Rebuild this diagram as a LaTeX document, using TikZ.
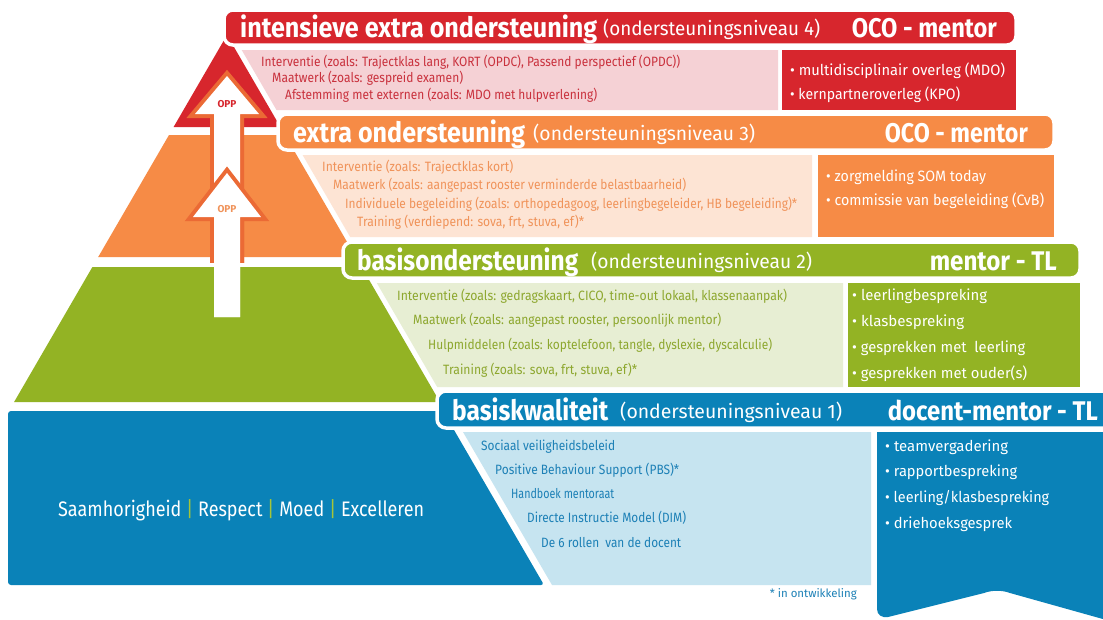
\documentclass[tikz,border=0pt]{standalone}
\usepackage{fontspec}
\setmainfont{Fira Sans}
\usepackage{graphicx}
\definecolor{redD}{HTML}{D7262D}
\definecolor{pinkL}{HTML}{F5D1D5}
\definecolor{pinkT}{HTML}{C9313D}
\definecolor{orD}{HTML}{F68B46}
\definecolor{orL}{HTML}{FDE4D4}
\definecolor{orT}{HTML}{F0935A}
\definecolor{grD}{HTML}{93B324}
\definecolor{grL}{HTML}{E7EED3}
\definecolor{grT}{HTML}{8DA72E}
\definecolor{blD}{HTML}{0A82B8}
\definecolor{blL}{HTML}{C6E4F0}
\definecolor{blT}{HTML}{1C80B6}
\definecolor{sepG}{HTML}{A5C538}
\definecolor{arrO}{HTML}{EB6A35}
\newlength\fitlen
\newcommand\fitto[2]{\settowidth\fitlen{#2}\pgfmathsetmacro\fitratio{#1/\fitlen}\scalebox{\fitratio}[1]{#2}}
\tikzset{
  txt/.style={inner sep=0pt, anchor=base west},
  rtxt/.style={inner sep=0pt, anchor=base east},
  head/.style={txt, text=white, font=\bfseries\fontsize{28}{28}\selectfont},
  sub/.style={txt, text=white, font=\fontsize{19.5}{19.5}\selectfont},
  role/.style={rtxt, text=white, font=\bfseries\fontsize{27}{27}\selectfont},
  line/.style={txt, font=\fontsize{13.5}{13.5}\selectfont},
  boxt/.style={txt, text=white, font=\fontsize{15}{15}\selectfont},
  banner/.style={draw=white, line width=3.5pt, rounded corners=9pt},
  arrowline/.style={draw=arrO, line width=8pt, line join=miter},
  opp/.style={inner sep=0pt, font=\bfseries\fontsize{10}{10}\selectfont},
}
\begin{document}
\begin{tikzpicture}[x=1pt,y=-1pt]
\useasboundingbox (0,0) rectangle (1103,619);
\clip (0,0) rectangle (1103,619);
\fill[white] (0,0) rectangle (1103,619);
% pyramid layers
\fill[redD] (227,35) -- (280.4,127) -- (173.6,127) -- cycle;
\fill[orD] (169,135) -- (285,135) -- (355.8,257) -- (98.2,257) -- cycle;
\fill[grD] (92.4,267) -- (361.6,267) -- (439.9,402) -- (14.1,402) -- cycle;
\fill[blD, rounded corners=3pt] (8,411) -- (443,411) -- (544,585) -- (8,585) -- cycle;
% arrows
\begin{scope}
  \clip (150,60) rectangle (300,262);
  \draw[arrowline] (214,317) -- (214,114) -- (195,114) -- (227,76) -- (259,114) -- (240,114) -- (240,317) -- cycle;
\end{scope}
\fill[white] (214,317) -- (214,114) -- (195,114) -- (227,76) -- (259,114) -- (240,114) -- (240,317) -- cycle;
\begin{scope}
  \clip (150,60) rectangle (300,262);
  \draw[arrowline] (214,317) -- (214,217) -- (193,217) -- (227,173) -- (261,217) -- (240,217) -- (240,317) -- cycle;
\end{scope}
\fill[white] (214,317) -- (214,217) -- (193,217) -- (227,173) -- (261,217) -- (240,217) -- (240,317) -- cycle;
\node[opp, text=redD] (opp1) at (227,104) {OPP};
\node[opp, text=orT] (opp2) at (227,209) {OPP};
% panels
\fill[pinkL] (241.7,50) -- (778,50) -- (778,110) -- (276.5,110) -- cycle;
\fill[redD] (782,50) rectangle (1016,110);
\fill[orL] (302.6,155) -- (812,155) -- (812,237) -- (350.2,237) -- cycle;
\fill[orD] (818,155) rectangle (1054,237);
\fill[grL] (376.8,283) -- (843,283) -- (843,387) -- (437.2,387) -- cycle;
\fill[grD] (848,283) rectangle (1080,387);
\fill[blL] (463,432) -- (871,432) -- (871,585) -- (552,585) -- cycle;
\fill[blD] (877,432) -- (1110,432) -- (1110,621) -- (1010,593) .. controls (1002,590) and (992,590) .. (984,593) -- (888,617) .. controls (882,618) and (877,615) .. (877,609) -- cycle;
% banners
\draw[banner, fill=redD] (224,10) rectangle (1016,45);
\draw[banner, fill=orD] (278,114) rectangle (1054,150);
\draw[banner, fill=grD] (343,242) rectangle (1080,278);
\draw[banner, fill=blD] (437,391) rectangle (1125,428);
% level 4
\node[head] (t4) at (240,37) {\fitto{357}{intensieve extra ondersteuning}};
\node[sub] (s4) at (603,35) {\fitto{217}{(ondersteuningsniveau 4)}};
\node[role] (r4) at (997,37) {\fitto{145}{OCO - mentor}};
\node[line, text=pinkT] (p41) at (261,66) {\fitto{419}{Interventie (zoals: Trajectklas lang, KORT (OPDC), Passend perspectief (OPDC))}};
\node[line, text=pinkT] (p42) at (272,82) {\fitto{191}{Maatwerk (zoals: gespreid examen)}};
\node[line, text=pinkT] (p43) at (285,99) {\fitto{312}{Afstemming met externen (zoals: MDO met hulpverlening)}};
\node[boxt] (b41) at (790,75) {\fitto{215}{• multidisciplinair overleg (MDO)}};
\node[boxt] (b42) at (790,99) {\fitto{170}{• kernpartneroverleg (KPO)}};
% level 3
\node[head] (t3) at (293,142) {\fitto{232}{extra ondersteuning}};
\node[sub] (s3) at (533,140) {\fitto{222}{(ondersteuningsniveau 3)}};
\node[role] (r3) at (1028,142) {\fitto{143}{OCO - mentor}};
\node[line, text=orT] (p31) at (322,171) {\fitto{191}{Interventie (zoals: Trajectklas kort)}};
\node[line, text=orT] (p32) at (333,189) {\fitto{353}{Maatwerk (zoals: aangepast rooster verminderde belastbaarheid)}};
\node[line, text=orT] (p33) at (345,208) {\fitto{452}{Individuele begeleiding (zoals: orthopedagoog, leerlingbegeleider, HB begeleiding)*}};
\node[line, text=orT] (p34) at (357,226) {\fitto{227}{Training (verdiepend: sova, frt, stuva, ef)*}};
\node[boxt] (b31) at (826,181) {\fitto{160}{• zorgmelding SOM today}};
\node[boxt] (b32) at (826,205) {\fitto{218}{• commissie van begeleiding (CvB)}};
% level 2
\node[head] (t2) at (357,270) {\fitto{221}{basisondersteuning}};
\node[sub] (s2) at (591,268) {\fitto{221}{(ondersteuningsniveau 2)}};
\node[role] (r2) at (1057,270) {\fitto{127}{mentor - TL}};
\node[line, text=grT] (p21) at (397,300) {\fitto{390}{Interventie (zoals: gedragskaart, CICO, time-out lokaal, klassenaanpak)}};
\node[line, text=grT] (p22) at (413,324) {\fitto{308}{Maatwerk (zoals: aangepast rooster, persoonlijk mentor)}};
\node[line, text=grT] (p23) at (428,349) {\fitto{344}{Hulpmiddelen (zoals: koptelefoon, tangle, dyslexie, dyscalculie)}};
\node[line, text=grT] (p24) at (443,374) {\fitto{194}{Training (zoals: sova, frt, stuva, ef)*}};
\node[boxt] (b21) at (852,300) {\fitto{135}{• leerlingbespreking}};
\node[boxt] (b22) at (852,326) {\fitto{112}{• klasbespreking}};
\node[boxt] (b23) at (852,352) {\fitto{173}{• gesprekken met~ leerling}};
\node[boxt] (b24) at (852,378) {\fitto{175}{• gesprekken met ouder(s)}};
% level 1
\node[head] (t1) at (452,420) {\fitto{156}{basiskwaliteit}};
\node[sub] (s1) at (620,418) {\fitto{222}{(ondersteuningsniveau 1)}};
\node[role] (r1) at (1098,420) {\fitto{210}{docent-mentor - TL}};
\node[line, text=blT] (p11) at (481,450) {\fitto{134}{Sociaal veiligheidsbeleid}};
\node[line, text=blT] (p12) at (495,474) {\fitto{184}{Positive Behaviour Support (PBS)*}};
\node[line, text=blT] (p13) at (511,498) {\fitto{103}{Handboek mentoraat}};
\node[line, text=blT] (p14) at (527,522) {\fitto{159}{Directe Instructie Model (DIM)}};
\node[line, text=blT] (p15) at (541,547) {\fitto{140}{De 6 rollen~ van de docent}};
\node[boxt] (b11) at (885,451) {\fitto{123}{• teamvergadering}};
\node[boxt] (b12) at (885,476) {\fitto{132}{• rapportbespreking}};
\node[boxt] (b13) at (885,502) {\fitto{164}{• leerling/klasbespreking}};
\node[boxt] (b14) at (885,528) {\fitto{127}{• driehoeksgesprek}};
% values and footnote
\node[txt, text=white, font=\fontsize{21}{21}\selectfont] (vals) at (58,516) {\fitto{366}{Saamhorigheid {\color{sepG}|} Respect {\color{sepG}|} Moed {\color{sepG}|} Excelleren}};
\node[rtxt, text=blT, font=\fontsize{11.5}{11.5}\selectfont] (note) at (857,597) {\fitto{87}{* in ontwikkeling}};
\end{tikzpicture}
\end{document}
